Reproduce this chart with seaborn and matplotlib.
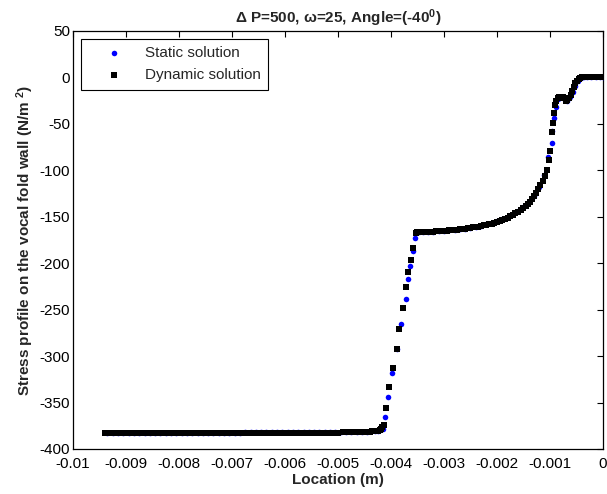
import matplotlib
matplotlib.use("Agg")
import matplotlib.pyplot as plt
import seaborn as sns
import pandas as pd

# ---------------- data ----------------
dyn_x = [
    -0.0094, -0.0093, -0.0092, -0.0091, -0.0090, -0.0089, -0.0088, -0.0087, -0.0086, -0.0085,
    -0.0084, -0.0083, -0.0082, -0.0081, -0.0080, -0.0079, -0.0078, -0.0077, -0.0076, -0.0075,
    -0.0074, -0.0073, -0.0072, -0.0071, -0.0070, -0.0069, -0.0068, -0.0067, -0.0066, -0.0065,
    -0.0064, -0.0063, -0.0062, -0.0061, -0.0060, -0.0059, -0.0058, -0.0057, -0.0056, -0.0055,
    -0.0054, -0.0053, -0.0052, -0.0051, -0.0050, -0.0049, -0.0048, -0.0047, -0.0046, -0.0045,
    -0.00445, -0.0044, -0.00435, -0.0043, -0.00427, -0.00424, -0.00421, -0.00418, -0.00416,
    -0.00414, -0.00410, -0.00403, -0.00396, -0.00389, -0.00385, -0.00378, -0.00371, -0.00367,
    -0.00362, -0.00358, -0.00352,
    -0.00350, -0.00345, -0.00340, -0.00335, -0.00330, -0.00325, -0.00320, -0.00315, -0.00310,
    -0.00305, -0.00300, -0.00295, -0.00290, -0.00285, -0.00280, -0.00275, -0.00270, -0.00265,
    -0.00260, -0.00255, -0.00250, -0.00245, -0.00240, -0.00235, -0.00230, -0.00225, -0.00220,
    -0.00215, -0.00210, -0.00205, -0.00200, -0.00195, -0.00190, -0.00185, -0.00180, -0.00175,
    -0.00170, -0.00165, -0.00160, -0.00155, -0.00150, -0.00146, -0.00142, -0.00138, -0.00134,
    -0.00130, -0.00126, -0.00122, -0.00118, -0.00114, -0.00110, -0.00106, -0.00101, -0.00099,
    -0.00097, -0.00094, -0.00092, -0.00090, -0.00088, -0.00085, -0.00082, -0.00079, -0.00076,
    -0.00073, -0.00070, -0.00067, -0.00064, -0.00061, -0.00058, -0.00055, -0.00052, -0.00049,
    -0.00046, -0.00043, -0.00040, -0.00036, -0.00032, -0.00028, -0.00024, -0.00020, -0.00016,
    -0.00012, -0.00008, -0.00004, 0.0,
]
dyn_y = [
    -383, -383, -383, -383, -383, -383, -383, -383, -383, -383,
    -383, -383, -383, -383, -383, -383, -383, -383, -383, -383,
    -383, -383, -383, -383, -383, -383, -383, -382.5, -382.5, -382.5,
    -382.5, -382.5, -382.5, -382.5, -382.5, -382.5, -382.5, -382.5, -382.5, -382.5,
    -382.5, -382.5, -382.5, -382.5, -382.5, -382, -382, -382, -382, -382,
    -381.5, -381.5, -381, -381, -381, -380.5, -380, -379, -376,
    -374, -356, -333, -313, -292, -271, -248, -226, -210,
    -197, -184, -168,
    -166.8, -166.6, -166.5, -166.3, -166.2, -166.0, -165.9, -165.7, -165.5,
    -165.3, -165.2, -165.0, -164.7, -164.4, -164.1, -163.8, -163.5, -163.1,
    -162.7, -162.3, -161.9, -161.5, -161.0, -160.5, -160.0, -159.4, -158.8,
    -158.1, -157.3, -156.5, -155.6, -154.6, -153.5, -152.3, -151.0, -149.5,
    -148.0, -146.3, -144.5, -142.5, -140.5, -138.5, -136.5, -134.0, -131.0,
    -128.0, -124.5, -120.5, -116.0, -111.0, -106.0, -100.0, -89.0, -79.0,
    -58.6, -49.6, -38.0, -30.0, -25.0, -22.0, -21.0, -21.0, -21.5,
    -22.5, -25.0, -24.5, -22.0, -19.0, -15.0, -10.5, -6.5, -3.5,
    -1.5, -0.5, 0.0, 0.2, 0.3, 0.3, 0.3, 0.3, 0.3,
    0.3, 0.3, 0.3, 0.3,
]

sta_x = [
    -0.00935, -0.00925, -0.00915, -0.00905, -0.00895, -0.00885, -0.00875, -0.00865, -0.00855, -0.00845,
    -0.00835, -0.00825, -0.00815, -0.00805, -0.00795, -0.00785, -0.00775, -0.00765, -0.00755, -0.00745,
    -0.00735, -0.00725, -0.00715, -0.00705, -0.00695, -0.00685, -0.00675, -0.00665, -0.00655, -0.00645,
    -0.00635, -0.00625, -0.00615, -0.00605, -0.00595, -0.00585, -0.00575, -0.00565, -0.00555, -0.00545,
    -0.00535, -0.00525, -0.00515, -0.00505, -0.00495, -0.00485, -0.00475, -0.00465, -0.00455, -0.00445,
    -0.00437, -0.00430, -0.00425, -0.00420, -0.00415,
    -0.00411, -0.00405, -0.00398, -0.00389, -0.00382, -0.00372, -0.00368, -0.00364, -0.00358,
    -0.00355,
    -0.00348, -0.00340, -0.00330, -0.00320, -0.00310, -0.00300, -0.00290, -0.00280, -0.00270,
    -0.00260, -0.00250, -0.00240, -0.00230, -0.00220, -0.00210, -0.00200, -0.00190, -0.00180,
    -0.00170, -0.00160, -0.00150, -0.00140, -0.00130, -0.00120, -0.00112, -0.00104, -0.00097,
    -0.00096, -0.00092, -0.00089, -0.00084, -0.00078, -0.00072, -0.00068, -0.00063, -0.00057,
    -0.00052, -0.00047, -0.00042, -0.00036, -0.00030, -0.00022, -0.00014, -0.00006, 0.0,
]
sta_y = [
    -383, -383, -383, -383, -383, -383, -383, -383, -383, -383,
    -383, -383, -383, -383, -383, -383, -383, -383, -383, -383,
    -383, -383, -383, -383, -383, -383, -382, -382, -382, -382,
    -382, -382, -382, -382, -382, -382, -382, -382, -382, -382,
    -382, -382, -382, -382, -382, -382, -382, -382, -381.5, -381.5,
    -381, -381, -380.5, -380, -379,
    -366, -344, -318.6, -292, -265, -238, -217, -203, -187,
    -173,
    -166.7, -166.5, -166.2, -165.9, -165.5, -165.2, -164.7, -164.1, -163.5,
    -162.7, -161.9, -160.9, -159.7, -158.3, -156.7, -154.8, -152.5, -150.0,
    -147.0, -143.5, -139.5, -134.5, -127.5, -118.0, -105.0, -86.0, -71.0,
    -57.5, -44.0, -32.0, -23.0, -21.5, -24.4, -25.0, -21.5, -15.5,
    -9.0, -3.5, -0.5, 0.2, 0.3, 0.3, 0.3, 0.3, 0.3,
]

x_ticks = [-0.01, -0.009, -0.008, -0.007, -0.006, -0.005, -0.004, -0.003, -0.002, -0.001, 0]
x_tick_labels = ["-0.01", "-0.009", "-0.008", "-0.007", "-0.006", "-0.005",
                 "-0.004", "-0.003", "-0.002", "-0.001", "0"]
y_ticks = [-400, -350, -300, -250, -200, -150, -100, -50, 0, 50]
y_tick_labels = ["-400", "-350", "-300", "-250", "-200", "-150", "-100", "-50", "0", "50"]

static_df = pd.DataFrame({"x": sta_x, "y": sta_y})
dynamic_df = pd.DataFrame({"x": dyn_x, "y": dyn_y})

# ---------------- styling ----------------
sns.set_style("white")
plt.rcParams["font.family"] = ["Liberation Sans", "DejaVu Sans"]
plt.rcParams["axes.unicode_minus"] = False
plt.rcParams["mathtext.fontset"] = "custom"
plt.rcParams["mathtext.rm"] = "Liberation Sans:bold"
plt.rcParams["mathtext.it"] = "Liberation Sans:bold"
plt.rcParams["mathtext.bf"] = "Liberation Sans:bold"

FS = 11

fig = plt.figure(figsize=(6.07, 4.94), dpi=100)
ax = fig.add_axes([0.1203, 0.0911, 0.873, 0.8462])

sns.scatterplot(data=static_df, x="x", y="y", ax=ax, marker="o", color="#0000ff",
                s=16, linewidth=0, label="Static solution", zorder=3)
sns.scatterplot(data=dynamic_df, x="x", y="y", ax=ax, marker="s", color="black",
                s=15, linewidth=0, label="Dynamic solution", zorder=4)

ax.set_xlim(-0.01, 0)
ax.set_ylim(-400, 50)
ax.set_xticks(x_ticks)
ax.set_xticklabels(x_tick_labels)
ax.set_yticks(y_ticks)
ax.set_yticklabels(y_tick_labels)
ax.tick_params(direction="in", length=4, width=0.8, top=True, right=True,
               labelsize=FS, colors="black")
ax.tick_params(axis="x", pad=6)
ax.tick_params(axis="y", pad=2)
for sp in ax.spines.values():
    sp.set_visible(True)
    sp.set_color("black")
    sp.set_linewidth(0.9)

ax.set_xlabel("Location (m)", fontsize=FS, fontweight="bold", labelpad=1)
ax.set_ylabel("Stress profile on the vocal fold wall (N/m $^2$)", fontsize=FS,
              fontweight="bold", labelpad=3)
ax.set_title("\u0394 P=500, \u03c9=25, Angle=(-40$^0$)", fontsize=FS,
             fontweight="bold", pad=6)

leg = ax.legend(loc="upper left", bbox_to_anchor=(0.0, 1.0), fontsize=FS,
                frameon=True, fancybox=False, edgecolor="black", framealpha=1,
                borderaxespad=0.5, handletextpad=0.3, markerscale=1.0,
                borderpad=0.5, labelspacing=0.5, handlelength=3.4)
leg.get_frame().set_linewidth(0.8)

fig.savefig("out.png", dpi=100)
